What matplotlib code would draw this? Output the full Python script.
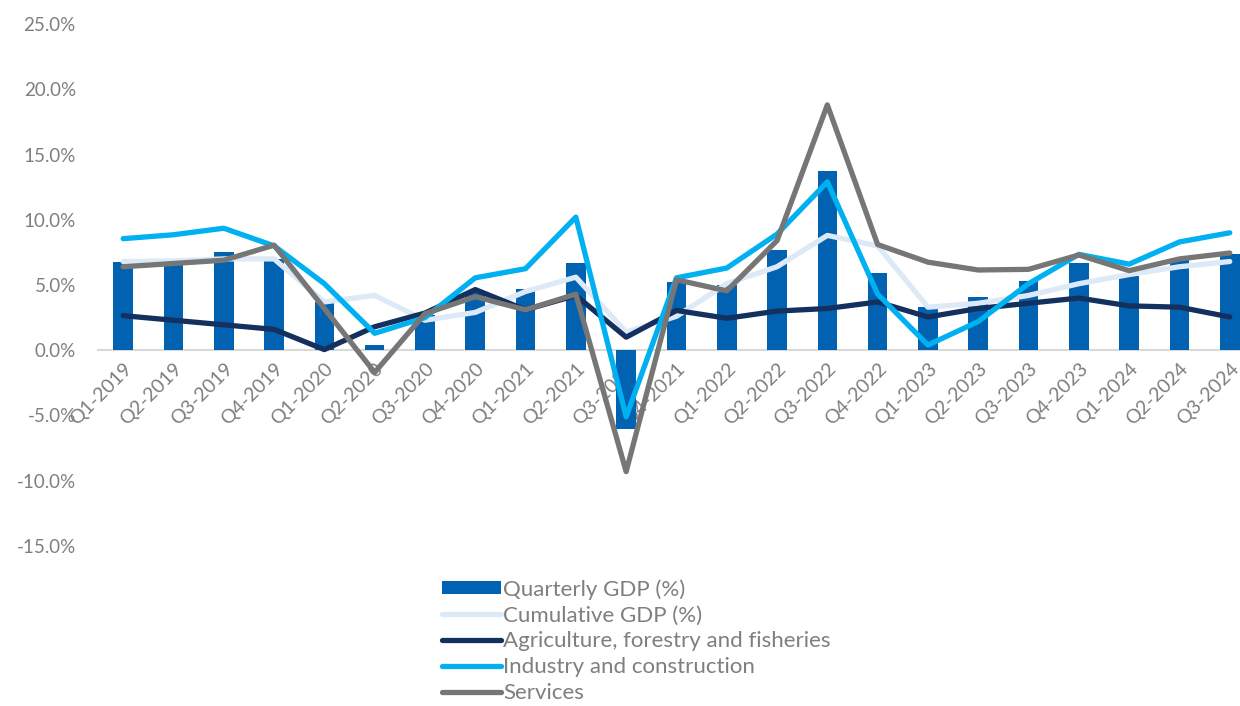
import matplotlib.pyplot as plt
import numpy as np
from matplotlib.ticker import FuncFormatter

# quarters
quarters = ['Q1-2019', 'Q2-2019', 'Q3-2019', 'Q4-2019',
            'Q1-2020', 'Q2-2020', 'Q3-2020', 'Q4-2020',
            'Q1-2021', 'Q2-2021', 'Q3-2021', 'Q4-2021',
            'Q1-2022', 'Q2-2022', 'Q3-2022', 'Q4-2022',
            'Q1-2023', 'Q2-2023', 'Q3-2023', 'Q4-2023',
            'Q1-2024', 'Q2-2024', 'Q3-2024']

# growth rates (%)
quarterly_gdp = [6.8, 6.7, 7.5, 7.0, 3.7, 0.4, 2.7, 4.5, 4.7, 6.7, -6.0, 5.2,
                 5.0, 7.7, 13.7, 5.9, 3.3, 4.1, 5.3, 6.7, 5.7, 6.9, 7.4]
cumulative_gdp = [6.8, 6.85, 7.0, 7.0, 3.7, 4.2, 2.3, 2.9, 4.5, 5.6, 1.4, 2.6,
                  5.1, 6.4, 8.8, 8.0, 3.3, 3.6, 4.2, 5.1, 5.8, 6.4, 6.8]
agriculture = [2.65, 2.3, 1.95, 1.6, 0.05, 1.8, 2.85, 4.65, 3.1, 4.2, 1.0, 3.05,
               2.45, 3.0, 3.2, 3.7, 2.55, 3.2, 3.6, 4.0, 3.4, 3.3, 2.55]
industry = [8.55, 8.85, 9.35, 8.0, 5.1, 1.3, 2.5, 5.55, 6.25, 10.2, -5.1, 5.55,
            6.3, 8.9, 12.9, 4.3, 0.4, 2.2, 5.1, 7.35, 6.6, 8.3, 9.0]
services = [6.4, 6.65, 6.9, 8.05, 3.2, -1.7, 2.8, 4.1, 3.1, 4.3, -9.3, 5.4,
            4.55, 8.4, 18.8, 8.1, 6.75, 6.15, 6.2, 7.3, 6.1, 7.0, 7.45]

plt.rcParams['font.family'] = ['Lato', 'DejaVu Sans']
txt = '#7F7F7F'

fig = plt.figure(figsize=(12.4, 7.06), dpi=100)
ax = fig.add_axes([98 / 1240, 1 - 546 / 706, (1240 - 98) / 1240, (546 - 24) / 706])

x = np.arange(len(quarters))
bars = ax.bar(x, quarterly_gdp, width=0.39, color='#0062B1', label='Quarterly GDP (%)', zorder=2)

lw = 3.8
l1, = ax.plot(x, cumulative_gdp, color='#DDE9F6', lw=lw, solid_capstyle='round',
              label='Cumulative GDP (%)', zorder=3)
l2, = ax.plot(x, agriculture, color='#14305E', lw=lw, solid_capstyle='round',
              label='Agriculture, forestry and fisheries', zorder=4)
l3, = ax.plot(x, industry, color='#00B0F0', lw=lw, solid_capstyle='round',
              label='Industry and construction', zorder=5)
l4, = ax.plot(x, services, color='#767676', lw=lw, solid_capstyle='round',
              label='Services', zorder=6)

ax.set_ylim(-15, 25)
ax.set_xlim(-0.5, (1240 - 98) / 50.3 - 0.5)
ax.set_yticks(np.arange(-15, 26, 5))
ax.yaxis.set_major_formatter(FuncFormatter(lambda v, p: f'{v:.1f}%'))

for s in ['top', 'right', 'left']:
    ax.spines[s].set_visible(False)
ax.spines['bottom'].set_position(('data', 0))
ax.spines['bottom'].set_color('#D9D9D9')
ax.spines['bottom'].set_linewidth(1.5)
ax.spines['bottom'].set_zorder(1)

ax.set_xticks(x)
ax.set_xticklabels(quarters, rotation=45, ha='right', rotation_mode='anchor')
ax.tick_params(axis='x', length=0, pad=7, labelsize=14, labelcolor=txt)
ax.tick_params(axis='y', length=0, pad=16, labelsize=13.5, labelcolor=txt)

leg = fig.legend(handles=[bars, l1, l2, l3, l4],
                 loc='upper left', bbox_to_anchor=(442 / 1240, 1 - 579 / 706),
                 frameon=False, fontsize=16, handlelength=2.65, handletextpad=0.1,
                 handleheight=0.5, labelspacing=0.26, borderaxespad=0, borderpad=0)
for t in leg.get_texts():
    t.set_color(txt)

fig.savefig('out.png', dpi=100)
